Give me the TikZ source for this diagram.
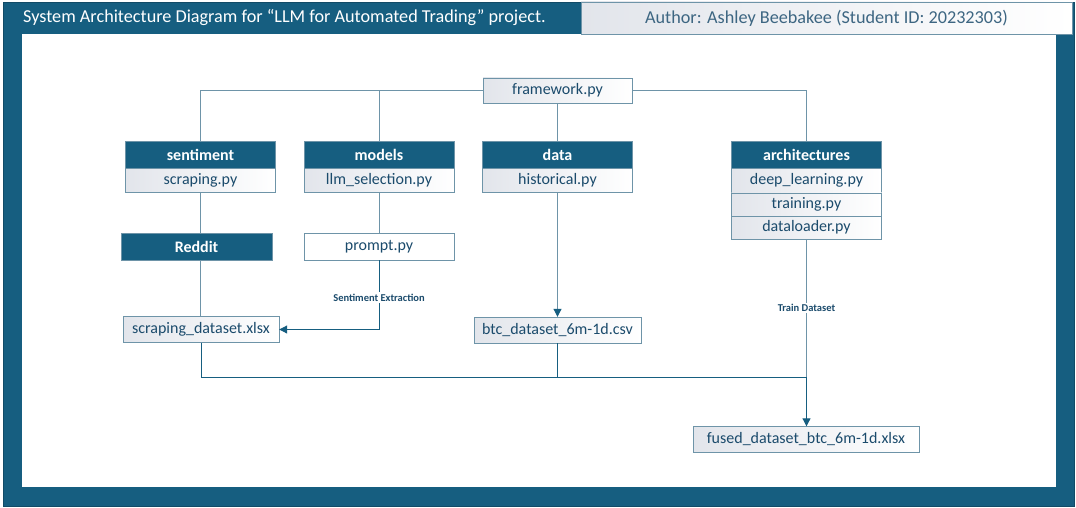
\documentclass[tikz,border=0pt]{standalone}
\usepackage{fontspec}
\setmainfont{Carlito}
\usepackage{xcolor}
\usepackage{tikz}
\usetikzlibrary{arrows.meta,positioning}

\definecolor{navy}{RGB}{22,94,128}
\definecolor{edgeblue}{RGB}{110,148,168}
\definecolor{inkblue}{RGB}{27,75,108}
\definecolor{paleblue}{RGB}{226,229,235}

\begin{document}
\begin{tikzpicture}[x=1pt,y=-1pt,
  head/.style={draw=edgeblue, fill=navy, text=white, font=\fontsize{16}{18}\selectfont\bfseries, minimum width=150pt, minimum height=27pt, inner sep=0pt},
  plain/.style={draw=edgeblue, fill=white, text=inkblue, font=\fontsize{16}{18}\selectfont, minimum width=150pt, minimum height=24pt, inner sep=0pt},
  file/.style={plain, left color=paleblue, right color=white},
  conn/.style={edgeblue, line width=1pt},
  dark/.style={navy, line width=1pt},
  arr/.style={line width=1pt, -{Triangle[length=8pt,width=8pt,color=navy,fill=navy]}},
  small/.style={font=\fontsize{10.5}{12}\selectfont\bfseries, text=inkblue, fill=white, inner sep=1.5pt}
]
\useasboundingbox (0,0) rectangle (1076,508);
\fill[white] (0,0) rectangle (1076,508);

% frame and title bar
\fill[navy] (3,2) rectangle (1074,506);
\fill[white] (22,34) rectangle (1056,487);
\draw[navy!80!black, line width=0.6pt] (3,2) rectangle (1074,506);
\node[anchor=west, text=white, font=\fontsize{18.2}{20}\selectfont, inner sep=1pt] (title) at (22,18) {System Architecture Diagram for “LLM for Automated Trading” project.};
\node[file, minimum width=491pt, minimum height=32pt, font=\fontsize{18.2}{20}\selectfont, text=inkblue!85!white] (author) at (826.5,18) {Author: Ashley Beebakee (Student ID: 20232303)};

% packages and modules
\node[file, minimum width=149pt, minimum height=25pt] (fw) at (557.5,90.5) {framework.py};
\node[head] (sent) at (200.5,154.5) {sentiment};
\node[file, below=0pt of sent] (scrap) {scraping.py};
\node[head] (mod) at (379,154.5) {models};
\node[file, below=0pt of mod] (llm) {llm\_selection.py};
\node[head] (dat) at (557.5,154.5) {data};
\node[file, below=0pt of dat] (hist) {historical.py};
\node[head] (arch) at (806.5,154.5) {architectures};
\node[file, below=0pt of arch] (deep) {deep\_learning.py};
\node[file, below=0pt of deep, minimum height=23pt] (train) {training.py};
\node[file, below=0pt of train, minimum height=23pt] (loader) {dataloader.py};

\node[head, minimum width=151pt] (reddit) at (196.5,246.5) {Reddit};
\node[plain, minimum height=27pt] (prompt) at (379,246.5) {prompt.py};

% datasets
\node[file, minimum width=156pt, minimum height=26pt] (scrapds) at (201,329.5) {scraping\_dataset.xlsx};
\node[file, minimum width=167pt, minimum height=26pt] (btc) at (557.5,330) {btc\_dataset\_6m-1d.csv};
\node[file, minimum width=226pt, minimum height=26pt] (fused) at (806,439.5) {fused\_dataset\_btc\_6m-1d.xlsx};
\coordinate (join) at (806.5,377);

% connectors
\draw[conn] (fw.west) -| (sent.north);
\draw[conn] (fw.east) -| (arch.north);
\draw[conn] (mod.north) -- (mod.north |- fw.west);
\draw[conn] (fw.south) -- (dat.north);
\draw[conn] (scrap.south) -- (scrap.south |- reddit.north);
\draw[conn] (reddit.south -| scrap.south) -- (scrapds.north -| scrap.south);
\draw[conn] (llm.south) -- (prompt.north);
\draw[arr, navy] (prompt.south) |- node[small, pos=0.27] {Sentiment Extraction} (scrapds.east);
\draw[arr, edgeblue] (hist.south) -- (btc.north);
\draw[dark] (scrapds.south) |- (join);
\draw[dark] (btc.south) -- (btc.south |- join);
\draw[conn] (loader.south) -- node[small, pos=0.5] {Train Dataset} (join);
\draw[arr, navy] (join) -- (join |- fused.north);
\end{tikzpicture}
\end{document}
